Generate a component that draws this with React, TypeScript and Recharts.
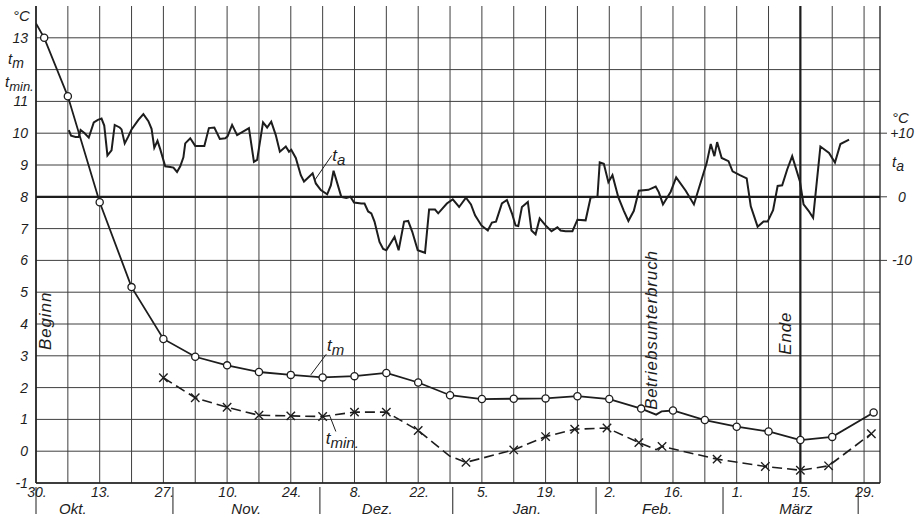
import React from 'react';
import {
  ComposedChart,
  Line,
  XAxis,
  YAxis,
  CartesianGrid,
  ReferenceLine,
  ReferenceDot,
} from 'recharts';

// ---------------- axes / labels ----------------
const X_MAX = 185.5; // days after 30 Sept
const weekTicks = Array.from({ length: 27 }, (_, i) => i * 7);
const dateLabels = ['30.', '13.', '27.', '10.', '24.', '8.', '22.', '5.', '19.', '2.', '16.', '1.', '15.', '29.'];
const monthNames = ['Okt.', 'Nov.', 'Dez.', 'Jan.', 'Feb.', 'März'];
const monthCenters = [8.1, 46.2, 75, 107.9, 136.5, 167];
const monthBounds = [0, 30.1, 62.4, 91.6, 123.1, 151, 180.7];

const gridValues = [-1, 0, 1, 2, 3, 4, 5, 6, 7, 8, 9, 10, 11, 12, 13];
const leftNumbers = [-1, 0, 1, 2, 3, 4, 5, 6, 7, 8, 9, 10, 11, 13];
const leftSymbolTicks = [13.69, 12.33, 11.61];
const leftSymbolMain = ['°C', 't', 't'];
const leftSymbolSub = ['', 'm', 'min.'];

const rightNumbers = [-10, 0, 10];
const rightNumberLabels = ['-10', '0', '+10'];
const rightSymbolTicks = [12.5, 5.5];
const rightSymbolMain = ['°C', 't'];
const rightSymbolSub = ['', 'a'];

// ---------------- series ----------------
// t_m : mean temperature (left axis, °C)
const tmDays = [0, 1.8, 7, 14, 21, 28, 35, 42, 49, 56, 63, 70, 77, 84, 91, 98, 105, 112, 119, 126, 133, 136.3, 137.5, 140, 147, 154, 161, 168, 175, 184.1];
const tmValues = [13.45, 13.0, 11.16, 7.83, 5.16, 3.53, 2.97, 2.7, 2.49, 2.4, 2.32, 2.36, 2.46, 2.16, 1.76, 1.64, 1.65, 1.66, 1.73, 1.64, 1.34, 1.15, 1.25, 1.28, 0.98, 0.77, 0.62, 0.35, 0.45, 1.22];
const tmMarked = [false, true, true, true, true, true, true, true, true, true, true, true, true, true, true, true, true, true, true, true, true, false, false, true, true, true, true, true, true, true];

// t_min : minimum temperature (left axis, °C)
const tminDays = [28, 35, 42, 49, 56, 63, 70, 77, 84, 91, 94.5, 105, 112, 118.4, 125.5, 132.5, 136.3, 137.6, 149.7, 160.3, 168, 174.2, 183.6];
const tminValues = [2.31, 1.68, 1.38, 1.13, 1.11, 1.09, 1.23, 1.23, 0.65, -0.16, -0.35, 0.04, 0.46, 0.69, 0.73, 0.27, 0.05, 0.15, -0.25, -0.48, -0.6, -0.46, 0.55];
const tminMarked = [true, true, true, true, true, true, true, true, true, false, true, true, true, true, true, true, false, true, true, true, true, true, true];

// t_a : outside air temperature (right axis, °C)
const taDays = [
  7.2, 7.7, 8.7, 9.4, 9.8, 10.7, 11.6, 12.7, 13.6, 14.4, 15.0, 15.7, 16.6, 17.3, 18.4, 18.8, 19.5, 20.3, 21.0, 22.5,
  23.6, 24.7, 25.4, 26.0, 26.7, 27.3, 28.4, 29.5, 30.2, 31.0, 31.7, 32.4, 32.8, 33.9, 35.0, 37.0, 38.0, 39.2, 40.4, 41.6,
  42.1, 43.1, 44.2, 46.8, 47.9, 48.6, 49.9, 50.8, 51.7, 52.7, 53.6, 54.9, 55.6, 56.1, 57.1, 58.2, 58.9, 59.5, 60.8, 61.5,
  62.6, 64.0, 64.8, 65.4, 65.9, 67.1, 68.2, 69.1, 69.9, 71.5, 72.2, 73.0, 73.7, 74.4, 75.5, 76.3, 77.0, 78.8, 79.7, 80.9,
  81.8, 82.7, 83.9, 85.5, 86.4, 87.7, 88.4, 90.3, 91.6, 93.0, 94.5, 95.6, 96.5, 97.9, 99.3, 100.2, 101.1, 102.4, 103.5, 104.6,
  105.4, 106.0, 106.8, 108.1, 108.9, 109.8, 110.7, 112.0, 113.3, 114.6, 115.3, 116.4, 117.9, 119.0, 120.8, 121.9, 123.4, 123.9, 124.8, 125.8,
  126.7, 127.4, 128.0, 129.2, 130.2, 131.4, 132.5, 134.6, 136.2, 136.9, 137.8, 139.5, 140.7, 142.8, 144.6, 146.1, 147.4, 148.3, 149.1, 149.7,
  150.7, 152.2, 153.1, 154.7, 156.2, 157.1, 158.6, 159.9, 160.8, 162.0, 163.0, 164.0, 165.1, 166.2, 167.9, 168.7, 169.8, 170.8, 172.4, 174.3,
  175.6, 176.8, 178.7,
];
const taValues = [
  10.5, 9.6, 9.4, 9.4, 10.5, 10.0, 9.3, 11.7, 12.1, 12.3, 11.2, 6.5, 7.3, 11.3, 10.9, 10.6, 8.4, 9.5, 10.6, 12.1,
  13.0, 11.9, 10.7, 7.7, 8.8, 7.5, 4.8, 4.7, 4.6, 3.9, 4.8, 6.2, 8.4, 9.2, 8.0, 8.0, 10.8, 10.9, 9.1, 9.2,
  9.5, 11.3, 9.7, 10.8, 5.5, 5.8, 11.7, 10.9, 11.8, 9.7, 7.1, 7.9, 7.1, 7.4, 6.1, 3.4, 2.4, 2.8, 3.7, 2.1,
  1.05, 0.4, 1.8, 4.1, 2.9, 0, -0.2, 0, -0.9, -1.05, -1.05, -2.3, -2.6, -3.9, -7.1, -8.2, -8.4, -6.3, -8.4, -3.9,
  -3.8, -5.5, -8.4, -8.8, -2.0, -2.0, -2.6, -1.05, -0.4, -1.6, -0.15, -1.2, -2.9, -4.5, -5.3, -4.05, -3.9, -1.05, -0.5, -2.6,
  -4.5, -4.6, -1.6, -0.8, -5.3, -5.9, -3.4, -4.5, -5.4, -4.8, -5.3, -5.4, -5.4, -3.6, -3.7, -0.1, 0, 5.4, 5.2, 2.3,
  3.4, 1.5, -0.1, -2.2, -3.8, -2.2, 0.95, 1.1, 1.6, 0.7, -1.2, 0.8, 3.05, 0.95, -1.2, 2.3, 5.3, 8.3, 6.4, 8.6,
  6.1, 5.6, 4.0, 3.4, 2.9, -1.5, -4.7, -3.9, -3.9, -2.1, 1.7, 1.8, 4.3, 6.4, 2.4, -1.2, -2.2, -3.3, 7.9, 6.9,
  5.4, 8.3, 9.0,
];

const tmData = tmDays.map((d, i) => ({ day: d, v: tmValues[i], mark: tmMarked[i] }));
const tminData = tminDays.map((d, i) => ({ day: d, v: tminValues[i], mark: tminMarked[i] }));
const taData = taDays.map((d, i) => ({ day: d, v: taValues[i] }));

// ---------------- styling ----------------
const FONT = '"Liberation Sans", Arial, sans-serif';
const INK = '#1d1d1d';
const GRID = '#3f3f3f';

const txt = {
  fontFamily: FONT,
  fontStyle: 'italic' as const,
  fill: INK,
};

const LeftTick = (props: any) => {
  const { x, y, payload } = props;
  const v = payload.value;
  const idx = leftSymbolTicks.indexOf(v);
  if (idx >= 0) {
    const startX = idx === 0 ? x - 23 : idx === 1 ? x - 28 : x - 31;
    return (
      <text x={startX} y={y} dy="0.35em" fontSize={15} {...txt}>
        {leftSymbolMain[idx]}
        {leftSymbolSub[idx] ? (
          <tspan dy={4} fontSize={idx === 2 ? 13 : 14}>{leftSymbolSub[idx]}</tspan>
        ) : null}
      </text>
    );
  }
  return (
    <text x={x - 8} y={y} dy="0.36em" textAnchor="end" fontSize={14} {...txt}>
      {String(v)}
    </text>
  );
};

const RightTick = (props: any) => {
  const { x, y, payload } = props;
  const v = payload.value;
  const si = rightSymbolTicks.indexOf(v);
  if (si >= 0) {
    return (
      <text x={x + 12} y={y} dy="0.35em" fontSize={15} {...txt}>
        {rightSymbolMain[si]}
        {rightSymbolSub[si] ? <tspan dy={4} fontSize={14}>{rightSymbolSub[si]}</tspan> : null}
      </text>
    );
  }
  const ni = rightNumbers.indexOf(v);
  return (
    <g>
      <line x1={x} x2={x + 7} y1={y} y2={y} stroke={GRID} strokeWidth={1} />
      <text x={x + 22} y={y} dy="0.36em" textAnchor="middle" fontSize={14} {...txt}>
        {rightNumberLabels[ni]}
      </text>
    </g>
  );
};

const DateTick = (props: any) => {
  const { x, y, payload } = props;
  const wk = Math.round(payload.value / 7);
  if (wk % 2 !== 0) return <g />;
  return (
    <text x={x + 1} y={y + 14} textAnchor="middle" fontSize={14} {...txt}>
      {dateLabels[wk / 2]}
    </text>
  );
};

const MonthTick = (props: any) => {
  const { x, y, payload } = props;
  const v = payload.value;
  const bi = monthBounds.indexOf(v);
  if (bi >= 0) {
    return <line x1={x} x2={x} y1={y - 13} y2={y + 14} stroke={INK} strokeWidth={1} />;
  }
  const mi = monthCenters.indexOf(v);
  return (
    <text x={x} y={y + 14} textAnchor="middle" fontSize={15} {...txt}>
      {monthNames[mi]}
    </text>
  );
};

const CircleDot = (props: any) => {
  const { cx, cy, payload, index } = props;
  if (!payload.mark) return <g key={`c${index}`} />;
  return <circle key={`c${index}`} cx={cx} cy={cy} r={3.6} fill="#fff" stroke={INK} strokeWidth={1.3} />;
};

const CrossDot = (props: any) => {
  const { cx, cy, payload, index } = props;
  if (!payload.mark) return <g key={`x${index}`} />;
  const s = 4.2;
  return (
    <path
      key={`x${index}`}
      d={`M${cx - s},${cy - s}L${cx + s},${cy + s}M${cx + s},${cy - s}L${cx - s},${cy + s}`}
      stroke={INK}
      strokeWidth={1.4}
      strokeDasharray="none"
      fill="none"
    />
  );
};

const symbolShape = (main: string, sub: string) => (p: any) => (
  <text x={p.cx} y={p.cy} fontSize={17} {...txt}>
    {main}
    <tspan dy={4} fontSize={15}>{sub}</tspan>
  </text>
);

const verticalShape = (label: string) => (p: any) => (
  <text
    x={p.cx}
    y={p.cy}
    transform={`rotate(-90 ${p.cx} ${p.cy})`}
    fontSize={17}
    letterSpacing={0.9}
    {...txt}
  >
    {label}
  </text>
);

export default function App() {
  return (
    <div style={{ position: 'absolute', left: 0, top: 0, width: 915, height: 518, background: '#fff' }}>
      <ComposedChart width={915} height={518} margin={{ top: 6, right: 0, bottom: 0, left: 0 }}>
        <CartesianGrid
          xAxisId={0}
          yAxisId="L"
          horizontalValues={gridValues}
          verticalValues={weekTicks}
          stroke={GRID}
          strokeWidth={1}
        />
        <XAxis
          xAxisId={0}
          dataKey="day"
          type="number"
          domain={[0, X_MAX]}
          ticks={weekTicks}
          interval={0}
          tick={<DateTick />}
          tickLine={false}
          tickSize={0}
          tickMargin={0}
          height={17}
          axisLine={{ stroke: INK, strokeWidth: 1.3 }}
          allowDataOverflow
        />
        <XAxis
          xAxisId="m"
          dataKey="day"
          type="number"
          domain={[0, X_MAX]}
          ticks={[...monthBounds, ...monthCenters]}
          interval={0}
          tick={<MonthTick />}
          tickLine={false}
          tickSize={0}
          tickMargin={0}
          height={18}
          axisLine={false}
          allowDataOverflow
        />
        <YAxis
          yAxisId="L"
          orientation="left"
          type="number"
          domain={[-1, 14]}
          ticks={[...leftNumbers, ...leftSymbolTicks]}
          interval={0}
          tick={<LeftTick />}
          tickLine={false}
          tickSize={0}
          tickMargin={0}
          width={36}
          axisLine={{ stroke: INK, strokeWidth: 1.6 }}
          allowDataOverflow
        />
        <YAxis
          yAxisId="R"
          orientation="right"
          type="number"
          domain={[-45, 30]}
          ticks={[...rightNumbers, ...rightSymbolTicks]}
          interval={0}
          tick={<RightTick />}
          tickLine={false}
          tickSize={0}
          tickMargin={0}
          width={35}
          axisLine={{ stroke: INK, strokeWidth: 1.3 }}
          allowDataOverflow
        />

        <ReferenceLine xAxisId={0} yAxisId="L" y={8} stroke={INK} strokeWidth={2.2} />
        <ReferenceLine xAxisId={0} yAxisId="L" x={168} stroke={INK} strokeWidth={2.2} />

        {/* leader lines */}
        <ReferenceLine xAxisId={0} yAxisId="L" segment={[{ x: 61.3, y: 8.53 }, { x: 65.0, y: 9.3 }]} stroke={INK} strokeWidth={1} />
        <ReferenceLine xAxisId={0} yAxisId="L" segment={[{ x: 60.4, y: 2.4 }, { x: 63.8, y: 3.05 }]} stroke={INK} strokeWidth={1} />
        <ReferenceLine xAxisId={0} yAxisId="L" segment={[{ x: 64.6, y: 1.1 }, { x: 65.9, y: 0.62 }]} stroke={INK} strokeWidth={1} />

        <Line
          data={taData}
          xAxisId={0}
          yAxisId="R"
          dataKey="v"
          type="linear"
          stroke={INK}
          strokeWidth={2}
          dot={false}
          activeDot={false}
          isAnimationActive={false}
        />
        <Line
          data={tmData}
          xAxisId={0}
          yAxisId="L"
          dataKey="v"
          type="linear"
          stroke={INK}
          strokeWidth={1.8}
          dot={CircleDot}
          activeDot={false}
          isAnimationActive={false}
        />
        <Line
          data={tminData}
          xAxisId={0}
          yAxisId="L"
          dataKey="v"
          type="linear"
          stroke={INK}
          strokeWidth={1.6}
          strokeDasharray="10 5"
          dot={CrossDot}
          activeDot={false}
          isAnimationActive={false}
        />

        {/* annotations */}
        <ReferenceDot xAxisId={0} yAxisId="L" x={65.1} y={9.13} r={0} shape={symbolShape('t', 'a')} />
        <ReferenceDot xAxisId={0} yAxisId="L" x={63.96} y={3.15} r={0} shape={symbolShape('t', 'm')} />
        <ReferenceDot xAxisId={0} yAxisId="L" x={63.7} y={0.23} r={0} shape={symbolShape('t', 'min.')} />
        <ReferenceDot xAxisId={0} yAxisId="L" x={136.5} y={1.3} r={0} shape={verticalShape('Betriebsunterbruch')} />
        <ReferenceDot xAxisId={0} yAxisId="L" x={165.9} y={3.03} r={0} shape={verticalShape('Ende')} />
        <ReferenceDot xAxisId={0} yAxisId="L" x={3.3} y={3.18} r={0} shape={verticalShape('Beginn')} />
      </ComposedChart>
    </div>
  );
}
